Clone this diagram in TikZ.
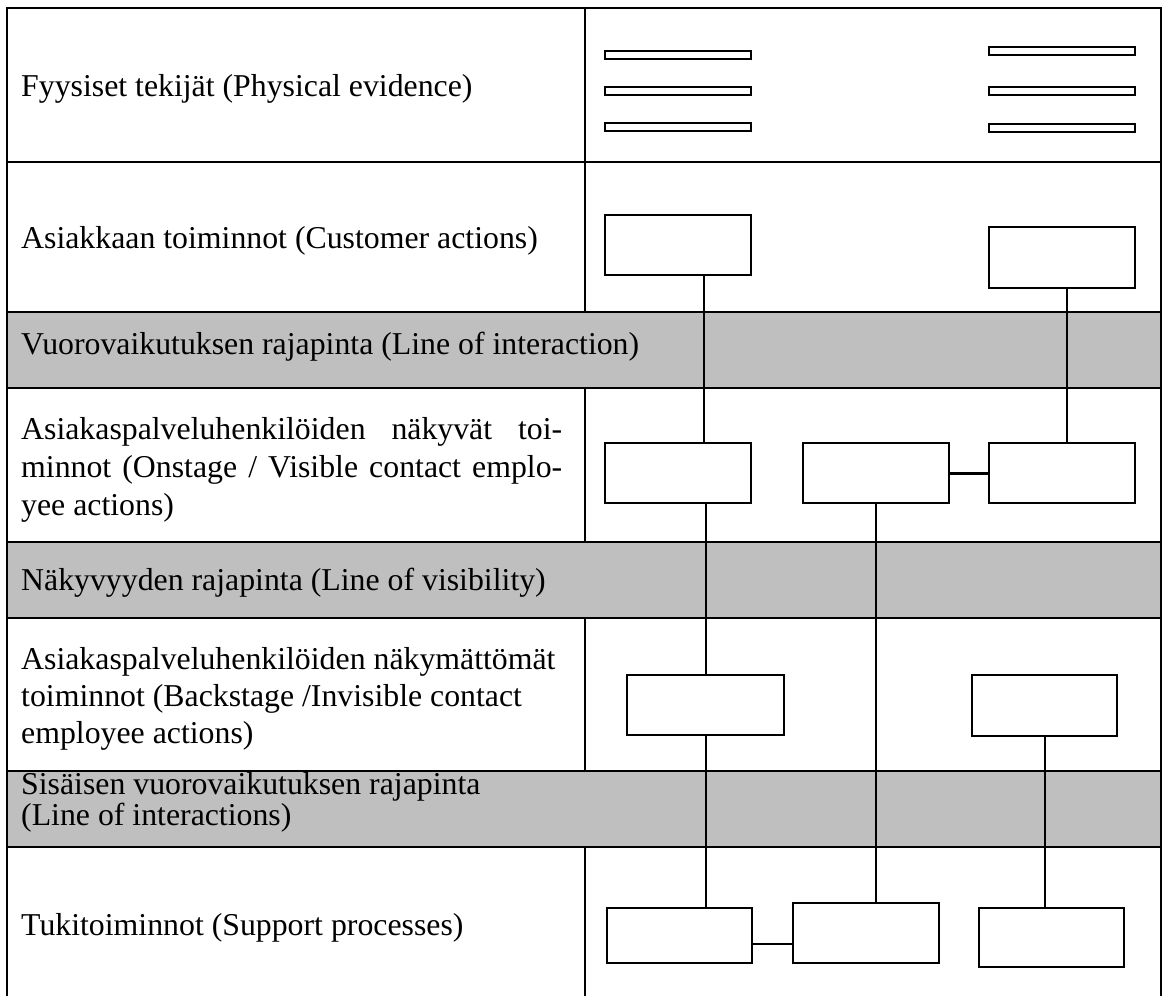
\documentclass[tikz,border=0pt]{standalone}
\usepackage{fontspec}
\setmainfont{Liberation Serif}
\begin{document}
\begin{tikzpicture}[x=1pt,y=-1pt,
	box/.style={draw,line width=2pt,fill=white,inner sep=0pt,minimum width=146pt,minimum height=60pt},
	bar/.style={draw,line width=2pt,fill=white,inner sep=0pt,minimum width=146pt,minimum height=8pt},
	rowtext/.style={anchor=base west,inner sep=0pt,align=left,font=\fontsize{31.8}{38}\selectfont},
	rule/.style={line width=2.7pt,line cap=rect},
	link/.style={line width=2pt}]

	\useasboundingbox (0,0) rectangle (1163,996);

	% grey bands
	\foreach \t / \b in {312/388, 542/618, 771/847}
	{
		\fill[lightgray] (7,\t) rectangle (1161,\b);
	};

	% table rules
	\foreach \y in {8,162,312,388,542,618,771,847}
	{
		\draw[rule] (7,\y) -- (1161,\y);
	};
	\draw[rule] (7,8) -- (7,996);
	\draw[rule] (1161,8) -- (1161,996);
	\foreach \t / \b in {8/312, 388/542, 618/771, 847/996}
	{
		\draw[rule] (585,\t) -- (585,\b);
	};

	% row texts (base = last line)
	\node[rowtext] (tPhys) at (21,96) {Fyysiset tekijät (Physical evidence)};
	\node[rowtext] (tCust) at (21,248) {Asiakkaan toiminnot (Customer actions)};
	\node[rowtext] (tInter) at (21,354) {Vuorovaikutuksen rajapinta (Line of interaction)};
	\node[rowtext] (tOn) at (21,515) {\makebox[541pt][s]{Asiakaspalveluhenkilöiden näkyvät toi-}\\\makebox[541pt][s]{minnot (Onstage / Visible contact emplo-}\\yee actions)};
	\node[rowtext] (tVis) at (21,590) {Näkyvyyden rajapinta (Line of visibility)};
	\node[rowtext,font=\fontsize{31.8}{37}\selectfont] (tBack) at (21,743) {Asiakaspalveluhenkilöiden näkymättömät\\toiminnot (Backstage /Invisible contact\\employee actions)};
	\node[rowtext,font=\fontsize{31.8}{29}\selectfont] (tIntern) at (21,825) {Sisäisen vuorovaikutuksen rajapinta\\(Line of interactions)};
	\node[rowtext] (tSupp) at (21,935) {Tukitoiminnot (Support processes)};

	% physical evidence
	\foreach \n / \x / \y in {pL1/678/55, pL2/678/91, pL3/678/127, pR1/1062/51, pR2/1062/91, pR3/1062/128}
	{
		\node[bar] (\n) at (\x,\y) {};
	};

	% action boxes
	\node[box] (cL) at (678,245) {};
	\node[box,minimum height=61pt] (cR) at (1062,257.5) {};
	\node[box] (oA) at (678,473) {};
	\node[box] (oB) at (876,473) {};
	\node[box] (oC) at (1062,473) {};
	\node[box,minimum width=157pt] (bD) at (705.5,705) {};
	\node[box,minimum width=145pt,minimum height=61pt] (bE) at (1044.5,705.5) {};
	\node[box,minimum width=145pt,minimum height=55pt] (sF) at (679.5,935.5) {};
	\node[box] (sG) at (866,933) {};
	\node[box,minimum width=145pt,minimum height=59pt] (sH) at (1051.5,937.5) {};

	\draw[link] ([xshift=26pt]cL.south) -- ([xshift=26pt]oA.north);
	\draw[link] ([xshift=5pt]cR.south) -- ([xshift=5pt]oC.north);
	\draw[link] (bD.north |- oA.south) -- (bD.north);
	\draw[link] (bD.south) -- (bD.south |- sF.north);
	\draw[link] (oB.south) -- (oB.south |- sG.north);
	\draw[link] (bE.south) -- (bE.south |- sH.north);
	\draw[line width=3pt] (oB.east) -- (oC.west);
	\draw[link] ([yshift=-8pt]sF.east) -- ([yshift=-8pt]sF.east -| sG.west);
\end{tikzpicture}
\end{document}
